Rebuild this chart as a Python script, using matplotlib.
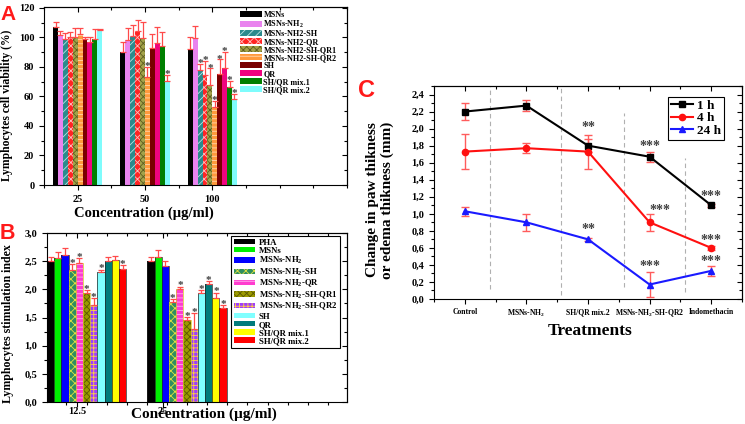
import matplotlib
matplotlib.use('Agg')
import matplotlib.pyplot as plt
import matplotlib.patches as mpatches
from matplotlib.lines import Line2D
from matplotlib.ticker import FuncFormatter, MultipleLocator
import numpy as np

plt.rcParams['font.family'] = ['Liberation Serif', 'DejaVu Serif']
plt.rcParams['font.weight'] = 'bold'
plt.rcParams['mathtext.fontset'] = 'custom'
plt.rcParams['mathtext.rm'] = 'Liberation Serif:bold'
plt.rcParams['mathtext.it'] = 'Liberation Serif:bold'
plt.rcParams['mathtext.bf'] = 'Liberation Serif:bold'
plt.rcParams['hatch.linewidth'] = 0.6

# ---------------- panel A : lymphocyte viability ----------------
a_groups = ['25', '50', '100']
a_labels = ['MSNs', 'MSNs-NH$_2$', 'MSNs-NH2-SH', 'MSNs-NH2-QR', 'MSNs-NH2-SH-QR1',
            'MSNs-NH2-SH-QR2', 'SH', 'QR', 'SH/QR mix.1', 'SH/QR mix.2']
a_mean_25 = [107, 101.5, 99, 100.5, 100.5, 102, 98.5, 97, 98.5, 105]
a_top_25 = [110.5, 104.5, 103, 103.5, 106.5, 106, 100.5, 100.2, 105.5, 105.8]
a_mean_50 = [90.2, 98, 100.8, 104.5, 99.8, 73.4, 93, 96, 94, 70.3]
a_top_50 = [96.7, 106.3, 108, 111.5, 110.3, 80, 102.5, 106.8, 103.8, 74.5]
a_mean_100 = [92, 99.8, 78, 74.3, 67.9, 52.5, 75.3, 79, 66.5, 58.5]
a_top_100 = [100, 107.5, 82, 84, 79, 57, 85, 90, 70.5, 61.5]
a_star_25 = [0] * 10
a_star_50 = [0, 0, 0, 0, 0, 1, 0, 0, 0, 1]
a_star_100 = [0, 0, 1, 1, 1, 1, 1, 1, 1, 1]

a_fill = ['black', '#e983ee', '#2b8a8c', '#ff2424', '#a3a34a', '#ff9a3c',
          '#7a0000', '#f0047f', '#008000', '#7ffcfc']
a_hatch = [None, None, '////', 'xxxx', 'xxxxx', '----', None, None, None, None]
a_hcol = ['black', '#333333', '#b8e4e4', '#ffc0c0', '#5e5e20', '#ffd8b0',
          '#330000', '#600030', '#003300', '#335555']

# ---------------- panel B : stimulation index ----------------
b_groups = ['12.5', '25']
b_labels = ['PHA', 'MSNs', 'MSNs-NH$_2$', 'MSNs-NH$_2$-SH', 'MSNs-NH$_2$-QR',
            'MSNs-NH$_2$-SH-QR1', 'MSNs-NH$_2$-SH-QR2', 'SH', 'QR',
            'SH/QR mix.1', 'SH/QR mix.2']
b_mean_12 = [2.51, 2.55, 2.61, 2.35, 2.46, 1.93, 1.72, 2.30, 2.50, 2.52, 2.36]
b_top_12 = [2.58, 2.67, 2.73, 2.45, 2.55, 1.98, 1.84, 2.35, 2.57, 2.60, 2.43]
b_mean_25 = [2.51, 2.58, 2.42, 1.77, 2.00, 1.46, 1.29, 1.94, 2.10, 1.85, 1.67]
b_top_25 = [2.58, 2.70, 2.51, 1.83, 2.05, 1.51, 1.58, 1.99, 2.15, 1.94, 1.72]
b_star_12 = [0, 0, 0, 1, 1, 1, 1, 1, 0, 0, 1]
b_star_25 = [0, 0, 0, 1, 1, 1, 1, 1, 1, 1, 1]

b_fill = ['black', '#00ee00', '#0000ff', '#2f8f5f', '#ff3ccf', '#9c9a00',
          '#9d3cff', '#80ffff', '#007b7b', '#ffff00', '#ff0000']
b_hatch = [None, None, None, 'xxxx', '----', 'xxxxx', '++++', None, None, None, None]
b_hcol = ['black', '#005500', '#00006a', '#e0e040', '#ffb0f0', '#5a5800',
          '#ffd040', '#222222', '#003333', '#555500', '#550000']

# ---------------- panel C : paw edema ----------------
c_labels = ['Control', 'MSNs-NH$_2$', 'SH/QR mix.2', 'MSNs-NH$_2$-SH-QR2', 'Indomethacin']
c_1h = [2.20, 2.27, 1.80, 1.67, 1.10]
c_1h_err = [0.10, 0.06, 0.08, 0.06, 0.02]
c_4h = [1.73, 1.77, 1.73, 0.90, 0.60]
c_4h_err = [0.21, 0.06, 0.20, 0.10, 0.02]
c_24h = [1.03, 0.90, 0.70, 0.17, 0.33]
c_24h_err = [0.05, 0.10, 0.02, 0.15, 0.06]
c_sig_1h = ['', '', '**', '***', '***']
c_sig_4h = ['', '', '', '***', '***']
c_sig_24h = ['', '', '**', '***', '***']

W, H = 745, 424
fig = plt.figure(figsize=(W / 100, H / 100), dpi=100)


def box(l, t, r, b):
    return [l / W, 1 - b / H, (r - l) / W, (b - t) / H]


def pt(x, y):
    return (x / W, 1 - y / H)


def origin_ticks(ax, xminor, yminor):
    # origin style: out on bottom/left, in on top/right
    ax.tick_params(which='both', direction='out', width=0.8)
    ax.tick_params(which='major', length=3.5)
    ax.tick_params(which='minor', length=2)
    top = ax.secondary_xaxis('top')
    top.set_xticks(ax.get_xticks())
    top.xaxis.set_minor_locator(xminor)
    top.tick_params(which='both', direction='in', labeltop=False, width=0.8)
    top.tick_params(which='major', length=3.5)
    top.tick_params(which='minor', length=2)
    right = ax.secondary_yaxis('right')
    right.set_yticks(ax.get_yticks())
    right.yaxis.set_minor_locator(yminor)
    right.tick_params(which='both', direction='in', labelright=False, width=0.8)
    right.tick_params(which='major', length=3.5)
    right.tick_params(which='minor', length=2)


def comma(v, p):
    return f'{v:.1f}'.replace('.', ',')


# ===== A =====
axA = fig.add_axes(box(44, 7, 347, 185))
a_means = [a_mean_25, a_mean_50, a_mean_100]
a_tops = [a_top_25, a_top_50, a_top_100]
a_stars = [a_star_25, a_star_50, a_star_100]
gx = np.arange(1, len(a_groups) + 1)
wA = 0.073
nA = len(a_labels)
for j in range(nA):
    xs = gx + (j - (nA - 1) / 2) * wA
    vals = np.array([m[j] for m in a_means])
    tops = np.array([t[j] for t in a_tops])
    axA.bar(xs, vals, wA, color=a_fill[j], hatch=a_hatch[j], edgecolor=a_hcol[j], linewidth=0)
    axA.errorbar(xs, vals, yerr=[np.zeros(len(xs)), tops - vals], fmt='none',
                 ecolor='#ff4a4a', elinewidth=0.9, capsize=2.2, capthick=0.9)
    for g in range(len(a_groups)):
        if a_stars[g][j]:
            axA.text(xs[g], tops[g] - 1.5, '*', ha='center', va='baseline',
                     fontsize=8, color='#404040')
axA.set_xlim(0.5, 5.0)
axA.set_ylim(0, 120.5)
axA.set_xticks(gx)
axA.set_xticklabels(a_groups, fontsize=7.5)
axA.xaxis.set_minor_locator(MultipleLocator(0.5))
axA.set_yticks(np.arange(0, 121, 20))
axA.yaxis.set_minor_locator(MultipleLocator(10))
axA.tick_params(axis='y', labelsize=7.5)
origin_ticks(axA, MultipleLocator(0.5), MultipleLocator(10))
hA = [mpatches.Patch(facecolor=a_fill[j], hatch=a_hatch[j], edgecolor=a_hcol[j], linewidth=0)
      for j in range(nA)]
axA.legend(hA, a_labels, loc='upper left', bbox_to_anchor=pt(240, 11),
           bbox_transform=fig.transFigure, frameon=False, fontsize=5.9,
           handlelength=2.7, handleheight=0.7, handletextpad=0.15,
           labelspacing=0.0, borderpad=0, borderaxespad=0)
fig.text(*pt(7, 105), 'Lymphocytes cell viability (%)', rotation=90,
         ha='center', va='center', fontsize=8.4)
fig.text(*pt(144, 213), 'Concentration (µg/ml)', ha='center', va='center', fontsize=10.5)
fig.text(*pt(0, 20), 'A', color='#ff1a1a', fontsize=15, family='Liberation Sans',
         weight='bold', ha='left', va='baseline')

# ===== B =====
axB = fig.add_axes(box(47, 233, 347, 402))
b_means = [b_mean_12, b_mean_25]
b_tops = [b_top_12, b_top_25]
b_stars = [b_star_12, b_star_25]
gxB = np.arange(1, len(b_groups) + 1)
wB = 0.0716
nB = len(b_labels)
for j in range(nB):
    xs = gxB + (j - (nB - 1) / 2) * wB
    vals = np.array([m[j] for m in b_means])
    tops = np.array([t[j] for t in b_tops])
    axB.bar(xs, vals, wB, color=b_fill[j], hatch=b_hatch[j], edgecolor=b_hcol[j], linewidth=0)
    axB.bar(xs, vals, wB, fill=False, edgecolor='#222222' if b_hatch[j] is None else '#d8c820',
            linewidth=0.5)
    axB.errorbar(xs, vals, yerr=[np.zeros(len(xs)), tops - vals], fmt='none',
                 ecolor='#ff4a4a', elinewidth=0.9, capsize=2.2, capthick=0.9)
    for g in range(len(b_groups)):
        if b_stars[g][j]:
            axB.text(xs[g], tops[g] - 0.03, '*', ha='center', va='baseline',
                     fontsize=8, color='#404040')
axB.set_xlim(0.607, 3.59)
axB.set_ylim(0, 3.0)
axB.set_xticks([0.905, 1.756])
axB.set_xticklabels(b_groups, fontsize=7.5)
axB.xaxis.set_minor_locator(MultipleLocator(0.2))
axB.set_yticks(np.arange(0, 3.01, 0.5))
axB.yaxis.set_major_formatter(FuncFormatter(comma))
axB.yaxis.set_minor_locator(MultipleLocator(0.25))
axB.tick_params(axis='y', labelsize=7.5)
axB.tick_params(axis='x', pad=0)
origin_ticks(axB, MultipleLocator(0.2), MultipleLocator(0.25))
hB = [mpatches.Patch(facecolor=b_fill[j], hatch=b_hatch[j], edgecolor=b_hcol[j], linewidth=0)
      for j in range(nB)]
legB = axB.legend(hB, b_labels, loc='upper left', bbox_to_anchor=pt(231, 236),
                  bbox_transform=fig.transFigure, frameon=True, fancybox=False,
                  edgecolor='black', framealpha=1, fontsize=6.3,
                  handlelength=2.5, handleheight=0.55, handletextpad=0.35,
                  labelspacing=0.02, borderpad=0.3, borderaxespad=0)
legB.get_frame().set_linewidth(0.8)
fig.text(*pt(8, 324), 'Lymphocytes stimulation index', rotation=90,
         ha='center', va='center', fontsize=8.6)
fig.text(*pt(204, 414), 'Concentration (µg/ml)', ha='center', va='center', fontsize=11)
fig.text(*pt(0, 239), 'B', color='#ff1a1a', fontsize=15.5, family='Liberation Sans',
         weight='bold', ha='left', va='baseline')

# ===== C =====
axC = fig.add_axes(box(434, 86, 742, 299))
cx = np.arange(len(c_labels))
series = [(c_1h, c_1h_err, c_sig_1h, 'black', 's', '1 h', [0.21, 0.12, 0.10]),
          (c_4h, c_4h_err, c_sig_4h, '#ff1010', 'o', '4 h', [0.14, 0.09]),
          (c_24h, c_24h_err, c_sig_24h, '#1a1aff', '^', '24 h', [0.12, 0.21, 0.11])]
sep_x = [0.405, 1.556, 2.59, 3.57]
sep_lo = [0.12, 0.05, 0.14, 0.08]
sep_hi = [2.5, 2.5, 2.18, 1.66]
axC.vlines(sep_x, sep_lo, sep_hi, colors='#b0b0b0', linestyles=(0, (4, 3)), linewidth=0.8)
handles = []
for vals, errs, sig, col, mk, lab, offs in series:
    axC.errorbar(cx, vals, yerr=errs, color=col, marker=mk, ms=4.5, lw=1.5,
                 ecolor='#ff5c5c', elinewidth=1, capsize=3, capthick=1)
    handles.append(Line2D([], [], color=col, marker=mk, ms=4.5, lw=1.5))
    k = 0
    for i, s in enumerate(sig):
        if s:
            dx = 0.17 if (lab == '4 h' and i == 3) else 0
            axC.text(cx[i] + dx, vals[i] + offs[k], s, ha='center', va='center',
                     fontsize=10, color='#404040')
            k += 1
axC.set_xlim(-0.5, 4.5)
axC.set_ylim(0, 2.5)
axC.set_xticks(cx)
axC.set_xticklabels(c_labels, fontsize=5.5)
axC.xaxis.set_minor_locator(MultipleLocator(0.5))
axC.set_yticks(np.arange(0, 2.41, 0.2))
axC.yaxis.set_major_formatter(FuncFormatter(comma))
axC.yaxis.set_minor_locator(MultipleLocator(0.1))
axC.tick_params(axis='y', labelsize=7.5)
axC.tick_params(axis='x', pad=3)
origin_ticks(axC, MultipleLocator(0.5), MultipleLocator(0.1))
legC = axC.legend(handles, ['1 h', '4 h', '24 h'], loc='upper right',
                  bbox_to_anchor=pt(724, 97), bbox_transform=fig.transFigure,
                  frameon=True, fancybox=False, edgecolor='black', framealpha=1,
                  fontsize=9.5, handlelength=1.7, handletextpad=0.3,
                  labelspacing=0.02, borderpad=0.2, borderaxespad=0)
legC.get_frame().set_linewidth(0.8)
fig.text(*pt(380, 200), 'Change in paw thikness\nor edema thikness (mm)', rotation=90,
         ha='center', va='center', fontsize=11, multialignment='center', linespacing=1.15)
fig.text(*pt(590, 331), 'Treatments', ha='center', va='center', fontsize=12.5)
fig.text(*pt(358, 97), 'C', color='#ff1a1a', fontsize=17, family='Liberation Sans',
         weight='bold', ha='left', va='baseline')

fig.savefig('out.png', dpi=100)
